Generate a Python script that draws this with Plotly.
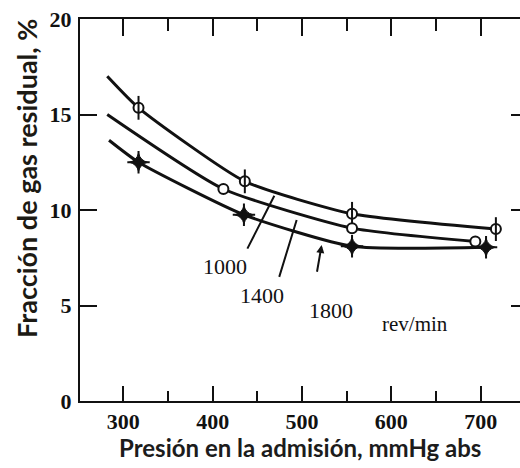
import plotly.graph_objects as go

# Residual gas fraction vs intake pressure, for three engine speeds
speeds = ["1000", "1400", "1800"]

# measured points (intake pressure mmHg abs, residual gas %)
p_1000 = [317, 436, 556, 717]
f_1000 = [15.35, 11.5, 9.8, 9.0]
p_1400 = [412, 556, 694]
f_1400 = [11.1, 9.05, 8.35]
p_1800 = [317, 435, 556, 706]
f_1800 = [12.5, 9.75, 8.1, 8.05]

# where each fitted curve begins on the left
curve_start_p = [282, 282, 284]
curve_start_f = [17.0, 15.0, 13.65]

x_ticks = [300, 400, 500, 600, 700]
y_ticks = [0, 5, 10, 15, 20]

INK = "#111111"
SERIF = "Liberation Serif"
SANS = "Lato"

fig = go.Figure()

series = [(p_1000, f_1000), (p_1400, f_1400), (p_1800, f_1800)]
for i, (p, f) in enumerate(series):
    fig.add_trace(go.Scatter(
        x=[curve_start_p[i]] + p, y=[curve_start_f[i]] + f,
        mode="lines", line=dict(color=INK, width=3, shape="spline", smoothing=0.55),
        hoverinfo="skip", showlegend=False))

# 1000 rev/min: circle crossed by a vertical bar
fig.add_trace(go.Scatter(x=p_1000, y=f_1000, mode="markers", showlegend=False,
                         marker=dict(symbol="circle", size=10, color="white",
                                     line=dict(color=INK, width=2))))
fig.add_trace(go.Scatter(x=p_1000, y=f_1000, mode="markers", showlegend=False,
                         marker=dict(symbol="line-ns", size=17,
                                     line=dict(color=INK, width=2))))
# 1400 rev/min: open circle
fig.add_trace(go.Scatter(x=p_1400, y=f_1400, mode="markers", showlegend=False,
                         marker=dict(symbol="circle", size=10, color="white",
                                     line=dict(color=INK, width=2))))
# 1800 rev/min: solid four-point star
fig.add_trace(go.Scatter(x=p_1800, y=f_1800, mode="markers", showlegend=False,
                         marker=dict(symbol="star-diamond", size=13, color=INK,
                                     line=dict(color=INK, width=1))))
fig.add_trace(go.Scatter(x=p_1800, y=f_1800, mode="markers", showlegend=False,
                         marker=dict(symbol="cross-thin", size=16,
                                     line=dict(color=INK, width=2))))

# curve labels with leader lines
label_pos = [(414, 7.02), (454.7, 5.55), (532.5, 4.76)]
leader_tail = [(438, 7.9), (474, 6.42), (516.5, 6.69)]
leader_head = [(469, 10.75), (494, 9.48), (522, 8.17)]
annotations = []
for i, s in enumerate(speeds):
    annotations.append(dict(x=label_pos[i][0], y=label_pos[i][1], text=s,
                            showarrow=False, xref="x", yref="y",
                            xanchor="center", yanchor="middle",
                            font=dict(family=SERIF, size=22, color=INK)))
    annotations.append(dict(x=leader_head[i][0], y=leader_head[i][1],
                            ax=leader_tail[i][0], ay=leader_tail[i][1],
                            xref="x", yref="y", axref="x", ayref="y", text="",
                            showarrow=True, arrowhead=2 if i == 2 else 0,
                            arrowsize=0.8, arrowwidth=2, arrowcolor=INK))
annotations.append(dict(x=626, y=4.03, text="rev/min", showarrow=False,
                        xref="x", yref="y", xanchor="center", yanchor="middle",
                        font=dict(family=SERIF, size=21, color=INK)))
annotations.append(dict(x=0.5, y=-0.123, xref="paper", yref="paper",
                        xanchor="center", yanchor="middle",
                        text="<b>Presión en la admisión, mmHg abs</b>",
                        showarrow=False,
                        font=dict(family=SANS, size=24, color="#1c1c1c")))
annotations.append(dict(x=-0.1205, y=0.584, xref="paper", yref="paper",
                        xanchor="center", yanchor="middle",
                        text="<b>Fracción de gas residual, %</b>", textangle=-90,
                        showarrow=False,
                        font=dict(family=SANS, size=27, color="#1c1a14")))

x_range = [251.5, 744]
y_range = [0, 20]
tick_font = dict(family=SERIF, size=22, color=INK, weight="bold")

fig.update_layout(
    width=520, height=468,
    margin=dict(l=80, r=0, t=19, b=67),
    paper_bgcolor="white", plot_bgcolor="white",
    annotations=annotations,
    xaxis=dict(range=x_range, tickvals=x_ticks, ticks="inside", ticklen=15,
               tickwidth=2, tickcolor=INK, showline=True, linewidth=2,
               linecolor=INK, showgrid=False, zeroline=False,
               ticklabelstandoff=0,
               minor=dict(dtick=50, tick0=0, ticks="inside", ticklen=10,
                          tickwidth=2, tickcolor=INK, showgrid=False),
               tickfont=tick_font),
    xaxis2=dict(range=x_range, overlaying="x", side="top", tickvals=x_ticks,
                ticks="inside", ticklen=17, tickwidth=2, tickcolor=INK,
                showline=True, linewidth=2, linecolor=INK, showgrid=False,
                zeroline=False, showticklabels=False,
                minor=dict(dtick=50, tick0=0, ticks="inside", ticklen=12,
                           tickwidth=2, tickcolor=INK, showgrid=False)),
    yaxis=dict(range=y_range, tickvals=y_ticks, ticks="inside", ticklen=17,
               tickwidth=2, tickcolor=INK, showline=True, linewidth=2,
               linecolor=INK, showgrid=False, zeroline=False,
               ticklabelstandoff=2, tickfont=tick_font),
    yaxis2=dict(range=y_range, overlaying="y", side="right",
                tickvals=[5, 10, 15], ticks="inside", ticklen=9, tickwidth=2,
                tickcolor=INK, showline=False, showgrid=False, zeroline=False,
                showticklabels=False),
)

# invisible trace so the secondary axes are drawn
fig.add_trace(go.Scatter(x=[x_range[0]], y=[0], xaxis="x2", yaxis="y2",
                         mode="markers", marker=dict(opacity=0),
                         hoverinfo="skip", showlegend=False))

fig.write_html("out.html")
